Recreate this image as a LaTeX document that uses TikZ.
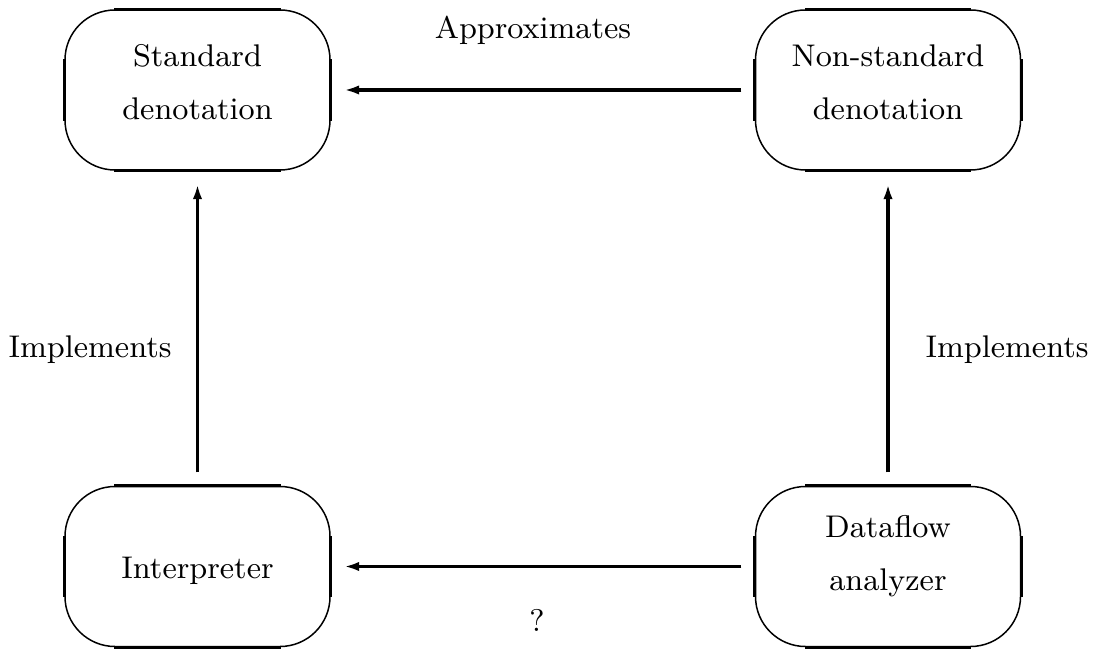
\documentclass[tikz,border=0pt]{standalone}
\usepackage{tikz}
\usetikzlibrary{arrows.meta}
\usetikzlibrary{positioning}
\tikzset{>={Latex[length=4.5pt,width=2.8pt]}}

\begin{document}
\begin{tikzpicture}[
            x=0.3pt, y=-0.3pt,
            font=\fontsize{9.4}{11.3}\selectfont,
            oval/.style={draw, line width=0.45pt, rounded corners=15pt, minimum width=79.5pt, minimum height=48pt, align=center},
            link/.style={->, line width=1pt, shorten >=4pt, shorten <=4pt}
        ]
        \useasboundingbox (0, 0) rectangle (1096, 650);
        \node[oval, text depth=5pt] (standard) at (197.5, 90) {Standard\\[4.6pt]denotation};
        \node[oval, text depth=5pt] (nonstandard) at (888, 90) {Non-standard\\[4.6pt]denotation};
        \node[oval, text height=8.8pt] (interp) at (197.5, 566.5) {Interpreter};
        \node[oval, text depth=7.9pt] (dataflow) at (888, 566.5) {Dataflow\\[4.6pt]analyzer};
        % straight sides of the ovals are drawn heavier
        \foreach \n in {standard, nonstandard, interp, dataflow} {
            \draw[line width=0.8pt] ([xshift=15pt]\n.north west) -- ([xshift=-15pt]\n.north east);
            \draw[line width=0.8pt] ([xshift=15pt]\n.south west) -- ([xshift=-15pt]\n.south east);
            \draw[line width=0.8pt] ([yshift=-15pt]\n.north west) -- ([yshift=15pt]\n.south west);
            \draw[line width=0.8pt] ([yshift=-15pt]\n.north east) -- ([yshift=15pt]\n.south east);
        }
        \draw[link] (nonstandard) -- (standard);
        \draw[link] (dataflow) -- (interp);
        \draw[link] (interp) -- (standard);
        \draw[link] (dataflow) -- (nonstandard);
        % labels
        \node (approx) at (533, 30) {Approximates};
        \node (query) at (537, 620) {?};
        \node (implleft) at (90, 350) {Implements};
        \node (implright) at (1007, 350) {Implements};
\end{tikzpicture}
\end{document}
